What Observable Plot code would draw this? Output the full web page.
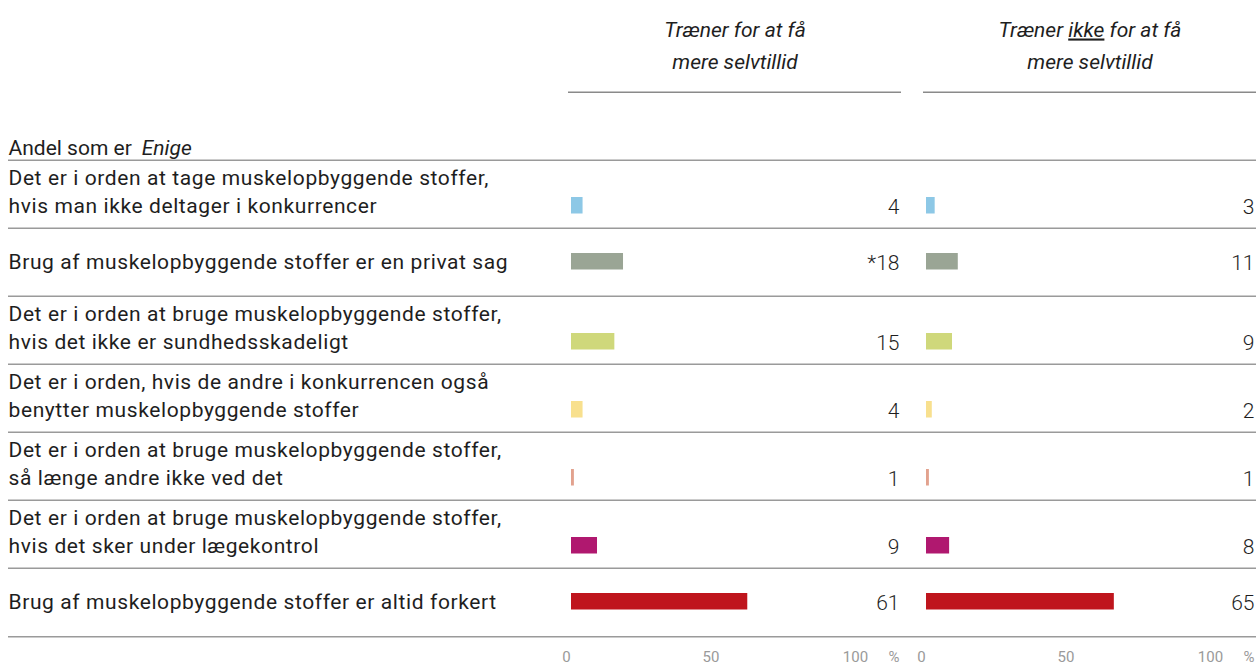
<!DOCTYPE html>
<html>
<head>
<meta charset="utf-8">
<script src="https://cdn.jsdelivr.net/npm/d3@7"></script>
<script src="https://cdn.jsdelivr.net/npm/@observablehq/plot@0.6"></script>
<style>
  html, body { margin: 0; padding: 0; background: #fff; }
  #chart svg { display: block; }
</style>
</head>
<body>
<div id="chart"></div>
<script>
// ---- data ----
const headerLabel = "Andel som er";
const headerLabelItalic = "Enige";
const groups = ["Træner for at få\nmere selvtillid", "Træner ikke for at få\nmere selvtillid"];
const underlinedWord = "ikke";
const statements = [
  "Det er i orden at tage muskelopbyggende stoffer,\nhvis man ikke deltager i konkurrencer",
  "Brug af muskelopbyggende stoffer er en privat sag",
  "Det er i orden at bruge muskelopbyggende stoffer,\nhvis det ikke er sundhedsskadeligt",
  "Det er i orden, hvis de andre i konkurrencen også\nbenytter muskelopbyggende stoffer",
  "Det er i orden at bruge muskelopbyggende stoffer,\nså længe andre ikke ved det",
  "Det er i orden at bruge muskelopbyggende stoffer,\nhvis det sker under lægekontrol",
  "Brug af muskelopbyggende stoffer er altid forkert"
];
const valuesFor = [4, 18, 15, 4, 1, 9, 61];
const valuesNotFor = [3, 11, 9, 2, 1, 8, 65];
const labelsFor = ["4", "*18", "15", "4", "1", "9", "61"];
const labelsNotFor = ["3", "11", "9", "2", "1", "8", "65"];
const colors = ["#8dc8e6", "#9aa595", "#cfd87b", "#f8e08e", "#e2a28e", "#b0186f", "#bf151d"];
const tickValues = [0, 50, 100];
const unitLabel = "%";
const HEADER = "__header__";

// ---- table for the library ----
const data = [];
statements.forEach((s, i) => {
  data.push({statement: s, group: groups[0], value: valuesFor[i], label: labelsFor[i]});
  data.push({statement: s, group: groups[1], value: valuesNotFor[i], label: labelsNotFor[i]});
});
const isTwo = s => s.includes("\n");

// ---- layout ----
const W = 1256, H = 666, mTop = 90, mBottom = 28, mLeft = 568;
const step = (H - mTop - mBottom) / (statements.length + 1);
const ink = "#1e1e1e", lineColor = "#9a9a9a";
const fs = 21;

const chart = Plot.plot({
  width: W, height: H,
  marginLeft: mLeft, marginRight: 0, marginTop: mTop, marginBottom: mBottom,
  style: {fontFamily: "Roboto, sans-serif", fontSize: fs + "px", color: ink, background: "#fff", overflow: "visible"},
  fx: {domain: groups, paddingInner: 0.062, paddingOuter: 0, axis: null},
  y: {domain: [HEADER, ...statements], padding: 0, axis: null},
  x: {domain: [0, 114.2], insetLeft: 3},
  color: {domain: statements, range: colors},
  marks: [
    // header rule over each panel
    Plot.ruleY([HEADER], {y: d => d, dy: -step / 2, stroke: "#8a8a8a", strokeWidth: 1.5}),
    // row separators spanning full width
    Plot.ruleY(statements, {y: d => d, fx: () => groups[0], dy: -step / 2, insetLeft: -(mLeft - 8), insetRight: -22, stroke: lineColor, strokeWidth: 1.5}),
    Plot.ruleY(statements, {y: d => d, fx: () => groups[1], dy: -step / 2, stroke: lineColor, strokeWidth: 1.5}),
    Plot.ruleY([statements[statements.length - 1]], {y: d => d, fx: () => groups[0], dy: step / 2, insetLeft: -(mLeft - 8), insetRight: -22, stroke: lineColor, strokeWidth: 1.5}),
    Plot.ruleY([statements[statements.length - 1]], {y: d => d, fx: () => groups[1], dy: step / 2, stroke: lineColor, strokeWidth: 1.5}),
    // bars
    Plot.barX(data.filter(d => isTwo(d.statement)), {x: "value", y: "statement", fx: "group", fill: "statement", insetTop: 37, insetBottom: step - 54}),
    Plot.barX(data.filter(d => !isTwo(d.statement)), {x: "value", y: "statement", fx: "group", fill: "statement", insetTop: 25, insetBottom: step - 42}),
    // value labels
    Plot.text(data.filter(d => isTwo(d.statement)), {y: "statement", fx: "group", text: "label", frameAnchor: "right", textAnchor: "end", dx: -2, dy: 12.5, fill: ink, fontWeight: 300}),
    Plot.text(data.filter(d => !isTwo(d.statement)), {y: "statement", fx: "group", text: "label", frameAnchor: "right", textAnchor: "end", dx: -2, dy: 0.5, fill: ink, fontWeight: 300}),
    // statement labels on the left
    Plot.text(statements.filter(isTwo), {y: d => d, fx: () => groups[0], text: d => d, frameAnchor: "left", textAnchor: "start", dx: -(mLeft - 8), lineAnchor: "bottom", lineHeight: 28 / fs, dy: 18, fill: ink}),
    Plot.text(statements.filter(s => !isTwo(s)), {y: d => d, fx: () => groups[0], text: d => d, frameAnchor: "left", textAnchor: "start", dx: -(mLeft - 8), lineAnchor: "bottom", dy: 6.5, fill: ink}),
    // "Andel som er Enige"
    Plot.text([HEADER], {y: d => d, fx: () => groups[0], text: () => headerLabel + " " + headerLabelItalic, frameAnchor: "left", textAnchor: "start", dx: -(mLeft - 8), lineAnchor: "bottom", dy: 28.5, fill: ink}),
    // panel headers
    Plot.text(groups, {fx: d => d, text: d => d, frameAnchor: "top", lineAnchor: "bottom", lineHeight: 32 / fs, dy: -22, fontStyle: "italic", fill: ink}),
    // x axis
    Plot.axisX({ticks: tickValues, tickSize: 0, tickPadding: 13, fontSize: 15, color: "#9a9a9a", dx: -5, tickFormat: d => String(d), label: null}),
    Plot.text([unitLabel], {text: d => d, frameAnchor: "bottom-right", textAnchor: "end", lineAnchor: "top", dy: 13, dx: -2, fontSize: 15, fill: "#9a9a9a"})
  ]
});

// underline "ikke" in the second panel header only, italic "Enige", spacing of statement labels
const svg = d3.select(chart);
const headerFirstLine = groups[1].split("\n")[0];
svg.selectAll("tspan").each(function () {
  const t = this.textContent;
  if (t === headerFirstLine) {
    const i = t.indexOf(" " + underlinedWord + " ");
    const sel = d3.select(this);
    sel.text(null);
    sel.append("tspan").text(t.slice(0, i + 1));
    sel.append("tspan").style("text-decoration", "underline").text(underlinedWord);
    sel.append("tspan").text(t.slice(i + 1 + underlinedWord.length));
  }
});
const statementKeys = new Set(statements.map(s => s.replace(/\n/g, "")));
svg.selectAll("text").each(function () {
  const t = this.textContent;
  if (t === headerLabel + " " + headerLabelItalic) {
    const sel = d3.select(this);
    sel.text(null);
    sel.append("tspan").text(headerLabel);
    sel.append("tspan").attr("dx", 10).attr("font-style", "italic").text(headerLabelItalic);
  } else if (statementKeys.has(t)) {
    d3.select(this).style("letter-spacing", "0.6px");
  }
});

document.getElementById("chart").append(chart);
</script>
</body>
</html>
